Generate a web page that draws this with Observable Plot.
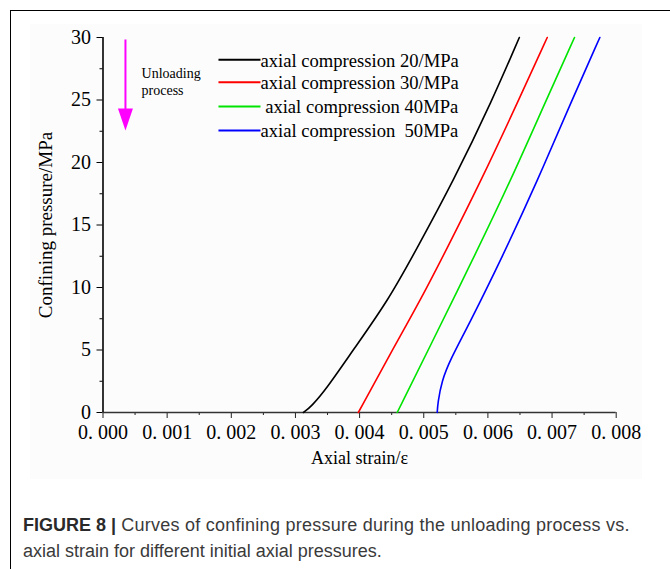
<!DOCTYPE html>
<html><head><meta charset="utf-8">
<script src="https://cdn.jsdelivr.net/npm/d3@7"></script>
<script src="https://cdn.jsdelivr.net/npm/@observablehq/plot@0.6"></script>
<style>
html,body{margin:0;padding:0;background:#fff;width:670px;height:569px;overflow:hidden;position:relative}
#frame{position:absolute;left:10px;top:10px;width:700px;height:600px;border-left:1.5px solid #000;border-top:1.5px solid #000}
#bg{position:absolute;left:30px;top:24px;width:612px;height:455px;background:#fcfcfc}
#chart{position:absolute;left:0;top:0}
#chart svg text{white-space:pre}
.cap{position:absolute;left:23px;white-space:nowrap;font-family:"Liberation Sans",Arial,sans-serif;font-size:18px;line-height:22px;color:#3a3a3a}
#cap1{top:514px;letter-spacing:0.25px}
#cap2{top:540px}
.cap .b{font-weight:bold;color:#2a2a2a;letter-spacing:0}
</style>
</head><body>
<div id="frame"></div>
<div id="bg"></div>
<div id="chart"></div>
<div class="cap" id="cap1"><span class="b">FIGURE 8 |</span><span> Curves of confining pressure during the unloading process vs.</span></div>
<div class="cap" id="cap2"><span>axial strain for different initial axial pressures.</span></div>
<script>
// ---- data ----
const seriesNames = ["axial compression 20/MPa", "axial compression 30/MPa", " axial compression 40MPa", "axial compression  50MPa"];
const seriesColors = ["#000000", "#ff0000", "#00e400", "#0000ff"];
const strain20 = [0.003125, 0.00325, 0.00347, 0.00390, 0.00445, 0.00488, 0.00546, 0.00607, 0.00649];
const press20  = [0, 0.5, 1.8, 5, 9, 13, 18.5, 25, 30];
const strain30 = [0.00398, 0.00450, 0.00495, 0.00535, 0.00589, 0.00648, 0.006925];
const press30  = [0, 4.9, 9, 13, 18.5, 25, 30];
const strain40 = [0.004586, 0.00507, 0.00578, 0.00635, 0.00691, 0.00735];
const press40  = [0, 5, 12.4, 18.5, 25, 30];
const strain50 = [0.00521, 0.00522, 0.00528, 0.00541, 0.00570, 0.00622, 0.00677, 0.00731, 0.007745];
const press50  = [0, 0.8, 2.5, 4.2, 7, 12.4, 18.5, 25, 30];
const xTicks = [0, 0.001, 0.002, 0.003, 0.004, 0.005, 0.006, 0.007, 0.008];
const xMinor = [0.0005, 0.0015, 0.0025, 0.0035, 0.0045, 0.0055, 0.0065, 0.0075];
const yTicks = [0, 5, 10, 15, 20, 25, 30];
const yMinor = [2.5, 7.5, 12.5, 17.5, 22.5, 27.5];
const xLabel = "Axial strain/ε";
const yLabel = "Confining pressure/MPa";
const annotText = "Unloading\nprocess";

// ---- layout (annotation placement in data units) ----
const layout = {
  legX1: 0.0018, legX2: 0.002455, legY: [28.22, 26.42, 24.48, 22.56],
  arrowX: 0.00035, arrowTop: 29.8, arrowShaftEnd: 23.6, arrowHeadCenter: 23.44,
  annotX: 0.000601, annotY: 26.5
};

const strains = [strain20, strain30, strain40, strain50];
const pressures = [press20, press30, press40, press50];
const rows = [];
strains.forEach((s, i) => s.forEach((v, j) => rows.push({series: seriesNames[i], strain: v, p: pressures[i][j]})));
const legendRows = seriesNames.map((name, i) => ({name, y: layout.legY[i], color: seriesColors[i]}));

const arrowHead = {draw(ctx) { ctx.moveTo(-7.5, -11); ctx.lineTo(7.5, -11); ctx.lineTo(0, 11); ctx.closePath(); }};
const fmtX = d => d3.format(".3f")(d).replace(".", ". ");

const chart = Plot.plot({
  width: 670, height: 480,
  marginLeft: 102.5, marginRight: 54.3, marginTop: 37, marginBottom: 68,
  style: {fontFamily: "'Liberation Serif', 'Times New Roman', serif", background: "transparent", color: "#000"},
  x: {domain: [0, 0.008]},
  y: {domain: [0, 30]},
  color: {domain: seriesNames, range: seriesColors},
  marks: [
    Plot.axisX({ticks: xMinor, tickSize: 3, tickFormat: () => "", stroke: "#222", label: null}),
    Plot.axisX({ticks: xTicks, tickSize: 6, tickPadding: 6, tickFormat: fmtX, fontSize: 20, stroke: "#222", label: null}),
    Plot.axisY({ticks: yMinor, tickSize: 3, tickFormat: () => "", stroke: "#000", label: null}),
    Plot.axisY({ticks: yTicks, tickSize: 6, tickPadding: 6, fontSize: 20, stroke: "#000", label: null}),
    Plot.ruleY([0], {stroke: "#333", strokeWidth: 1.3}),
    Plot.ruleX([0], {stroke: "#000", strokeWidth: 1.6}),
    Plot.line(rows, {x: "strain", y: "p", z: "series", stroke: "series", strokeWidth: 1.6, curve: "basis"}),
    // arrow
    Plot.ruleX([layout.arrowX], {y1: layout.arrowTop, y2: layout.arrowShaftEnd, stroke: "#ff00ff", strokeWidth: 2}),
    Plot.dot([layout.arrowX], {x: d => d, y: layout.arrowHeadCenter, symbol: arrowHead, fill: "#ff00ff", stroke: "none"}),
    Plot.text([annotText], {x: layout.annotX, y: layout.annotY, text: d => d, textAnchor: "start", lineAnchor: "middle", fontSize: 14, lineHeight: 1.17, fill: "#000"}),
    // legend
    Plot.link(legendRows, {x1: layout.legX1, x2: layout.legX2, y1: "y", y2: "y", stroke: "color", strokeWidth: 1.8}),
    Plot.text(legendRows, {x: layout.legX2, y: "y", text: "name", textAnchor: "start", lineAnchor: "middle", fontSize: 18.6, dy: 1, fill: "#000"}),
    // axis labels
    Plot.text([yLabel], {frameAnchor: "left", text: d => d, rotate: -90, dx: -57.5, fontSize: 19, textAnchor: "middle", lineAnchor: "middle", fill: "#000"}),
    Plot.text([xLabel], {frameAnchor: "bottom", text: d => d, dy: 46, fontSize: 18, textAnchor: "middle", lineAnchor: "middle", fill: "#000"})
  ]
});
document.getElementById("chart").appendChild(chart);
</script>
</body></html>
